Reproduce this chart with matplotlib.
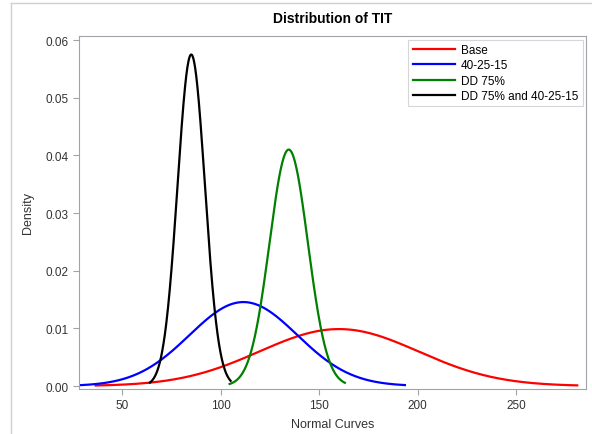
import numpy as np
import matplotlib
matplotlib.use("Agg")
import matplotlib.pyplot as plt
from matplotlib.lines import Line2D

# normal curve parameters
names = ["Base", "40-25-15", "DD 75%", "DD 75% and 40-25-15"]
means = [160.0, 111.5, 134.5, 85.0]
sds = [40.4, 27.4, 9.73, 6.94]
x_min = [36.5, 28.7, 104.5, 64.0]
x_max = [281.0, 193.5, 163.0, 105.0]
colors = ["#ff0000", "#0000ff", "#008000", "#000000"]

plt.rcParams['font.family'] = ['Liberation Sans', 'DejaVu Sans']

fig = plt.figure(figsize=(5.92, 4.35), dpi=100)
ax = fig.add_axes([0.1334, 0.1034, 0.8566, 0.8116])

for name, mu, sd, lo, hi, c in zip(names, means, sds, x_min, x_max, colors):
    x = np.linspace(lo, hi, 400)
    y = np.exp(-0.5 * ((x - mu) / sd) ** 2) / (sd * np.sqrt(2 * np.pi))
    ax.plot(x, y, color=c, lw=1.6, label=name)

ax.set_xlim(28, 285.5)
ax.set_ylim(-0.00052, 0.0607)
ax.set_xticks([50, 100, 150, 200, 250])
ax.set_yticks([0.0, 0.01, 0.02, 0.03, 0.04, 0.05, 0.06])
ax.set_yticklabels([f"{v:.2f}" for v in ax.get_yticks()])

for s in ax.spines.values():
    s.set_color("#a0a4a8")
ax.tick_params(colors="#a0a4a8", labelcolor="#333333", labelsize=8.5, length=4)

ax.set_title("Distribution of TIT", fontsize=10, fontweight="bold", pad=10)
ax.set_xlabel("Normal Curves", fontsize=9, color="#333333", labelpad=5)
ax.set_ylabel("Density", fontsize=9, color="#333333", labelpad=8)

leg = ax.legend(loc="upper right", fontsize=8.5, frameon=True, fancybox=False,
                handlelength=3.6, borderpad=0.35, labelspacing=0.3,
                handletextpad=0.5, borderaxespad=0.3)
leg.get_frame().set_edgecolor("#cccccc")
leg.get_frame().set_linewidth(0.8)

# outer light border of the graph area
fig.add_artist(Line2D([11/592, 1], [1 - 4/435, 1 - 4/435], color="#d0d0d0", lw=1))
fig.add_artist(Line2D([11/592, 11/592], [0, 1 - 4/435], color="#d0d0d0", lw=1))

fig.savefig("out.png", dpi=100)
